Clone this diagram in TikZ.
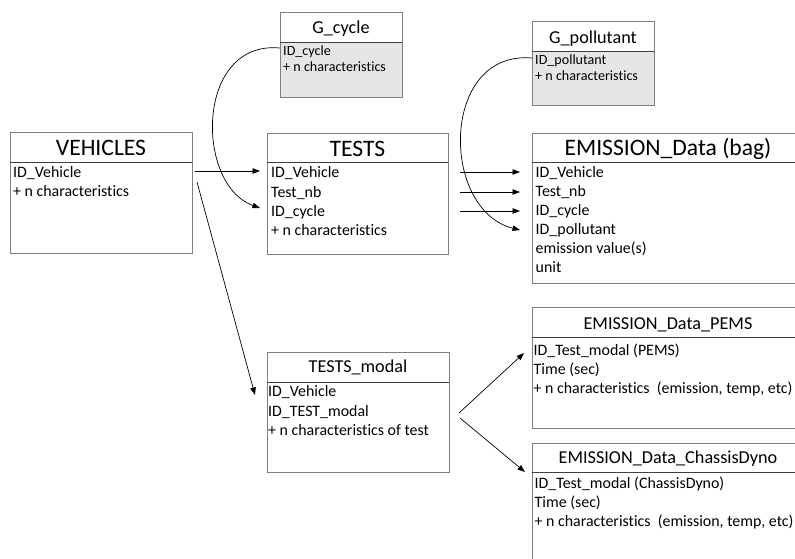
\documentclass[tikz,border=0pt]{standalone}
\usepackage{fontspec}
\setmainfont{Carlito}[Ligatures=NoCommon]
\usetikzlibrary{arrows.meta}
\definecolor{boxgray}{HTML}{7F7F7F}
\definecolor{sepgray}{HTML}{404040}
\definecolor{gfill}{HTML}{E6E6E6}
\tikzset{
  tbox/.style={draw=boxgray, line width=0.9pt, anchor=north west, inner sep=0pt, outer sep=0pt},
  sepline/.style={draw=sepgray, line width=1pt},
  rowtxt/.style={anchor=base west, inner sep=0pt, font=\fontsize{15.9}{18}\selectfont},
  growtxt/.style={anchor=base west, inner sep=0pt, font=\fontsize{14.1}{16}\selectfont},
  bigtitle/.style={anchor=base, inner sep=0pt, font=\fontsize{23.6}{28}\selectfont},
  midtitle/.style={anchor=base, inner sep=0pt, font=\fontsize{18.2}{21}\selectfont},
  link/.style={draw=black, line width=0.7pt, -{Triangle[length=7.5pt,width=5.5pt]}},
}
\begin{document}
\begin{tikzpicture}[x=1pt,y=-1pt]
\useasboundingbox (0,0) rectangle (795,558);
\clip (0,0) rectangle (795,558);
\fill[white] (0,0) rectangle (795,558);

% G_cycle
\fill[gfill] (280,42) rectangle (402,97);
\node[tbox, minimum width=122pt, minimum height=85pt] (gcycle) at (280,12) {};
\draw[sepline] (280,42) -- (402,42);
\node[midtitle] (gcyclet) at (341,33) {G\_cycle};
\node[growtxt] (gc1) at (283,55) {ID\_cycle};
\node[growtxt] (gc2) at (283,71) {+ n characteristics};

% G_pollutant
\fill[gfill] (532,51) rectangle (654,105);
\node[tbox, minimum width=122pt, minimum height=84pt] (gpoll) at (532,21) {};
\draw[sepline] (532,51) -- (654,51);
\node[midtitle] (gpollt) at (593,43) {G\_pollutant};
\node[growtxt] (gp1) at (535,64) {ID\_pollutant};
\node[growtxt] (gp2) at (535,80.5) {+ n characteristics};

% VEHICLES
\node[tbox, minimum width=182pt, minimum height=121pt] (veh) at (10,132) {};
\draw[sepline] (10,162) -- (192,162);
\node[bigtitle] (veht) at (101,155) {VEHICLES};
\node[rowtxt] (v1) at (13,177) {ID\_Vehicle};
\node[rowtxt] (v2) at (13,196) {+ n characteristics};

% TESTS
\node[tbox, minimum width=181pt, minimum height=121pt] (tests) at (267,133) {};
\draw[sepline] (267,162) -- (448,162);
\node[bigtitle] (testst) at (357.5,156) {TESTS};
\node[rowtxt] (t1) at (271,177.5) {ID\_Vehicle};
\node[rowtxt] (t2) at (271,197) {Test\_nb};
\node[rowtxt] (t3) at (271,216) {ID\_cycle};
\node[rowtxt] (t4) at (271,235) {+ n characteristics};

% EMISSION_Data (bag)
\node[tbox, minimum width=272pt, minimum height=150pt] (bag) at (532,133) {};
\draw[sepline] (532,162) -- (804,162);
\node[bigtitle] (bagt) at (668,155) {EMISSION\_Data (bag)};
\node[rowtxt] (b1) at (535.5,177.5) {ID\_Vehicle};
\node[rowtxt] (b2) at (535.5,196.5) {Test\_nb};
\node[rowtxt] (b3) at (535.5,215.5) {ID\_cycle};
\node[rowtxt] (b4) at (535.5,234.5) {ID\_pollutant};
\node[rowtxt] (b5) at (535.5,253) {emission value(s)};
\node[rowtxt] (b6) at (535.5,272) {unit};

% TESTS_modal
\node[tbox, minimum width=182pt, minimum height=120pt] (modal) at (267,352) {};
\draw[sepline] (267,382) -- (449,382);
\node[midtitle] (modalt) at (358,372) {TESTS\_modal};
\node[rowtxt] (m1) at (268,396.7) {ID\_Vehicle};
\node[rowtxt] (m2) at (268,416) {ID\_TEST\_modal};
\node[rowtxt] (m3) at (268,435) {+ n characteristics of test};

% EMISSION_Data_PEMS
\node[tbox, minimum width=272pt, minimum height=121pt] (pems) at (532,307) {};
\draw[sepline] (532,337) -- (804,337);
\node[midtitle] (pemst) at (668,329) {EMISSION\_Data\_PEMS};
\node[rowtxt] (p1) at (533.5,355) {ID\_Test\_modal (PEMS)};
\node[rowtxt] (p2) at (533.5,374) {Time (sec)};
\node[rowtxt] (p3) at (533.5,393) {+ n characteristics\ \ (emission, temp, etc)};

% EMISSION_Data_ChassisDyno
\node[tbox, minimum width=272pt, minimum height=130pt] (dyno) at (532,443) {};
\draw[sepline] (532,472) -- (804,472);
\node[midtitle] (dynot) at (668,463) {EMISSION\_Data\_ChassisDyno};
\node[rowtxt] (d1) at (534.5,488) {ID\_Test\_modal (ChassisDyno)};
\node[rowtxt] (d2) at (534.5,507) {Time (sec)};
\node[rowtxt] (d3) at (534.5,526) {+ n characteristics\ \ (emission, temp, etc)};

% connector end points
\coordinate (vs1) at (195,171);
\coordinate (te1) at (260,171);
\coordinate (vs2) at (197,182);
\coordinate (me1) at (255,395);
\coordinate (gcs) at (280,48);
\coordinate (te3) at (260,208);
\coordinate (ts1) at (460,172);
\coordinate (be1) at (520,172);
\coordinate (ts2) at (460,192);
\coordinate (be2) at (520,192);
\coordinate (ts3) at (460,211);
\coordinate (be3) at (520,211);
\coordinate (gps) at (532,58);
\coordinate (be4) at (520,230);
\coordinate (ms1) at (459,413);
\coordinate (pe1) at (524,353);
\coordinate (ms2) at (460,418);
\coordinate (de1) at (525,472);

\draw[link] (vs1) -- (te1);
\draw[link] (vs2) -- (me1);
\draw[link] (gcs) .. controls (195,40) and (195,185) .. (te3);
\draw[link] (ts1) -- (be1);
\draw[link] (ts2) -- (be2);
\draw[link] (ts3) -- (be3);
\draw[link] (gps) .. controls (440,50) and (440,210) .. (be4);
\draw[link] (ms1) -- (pe1);
\draw[link] (ms2) -- (de1);
\end{tikzpicture}
\end{document}
